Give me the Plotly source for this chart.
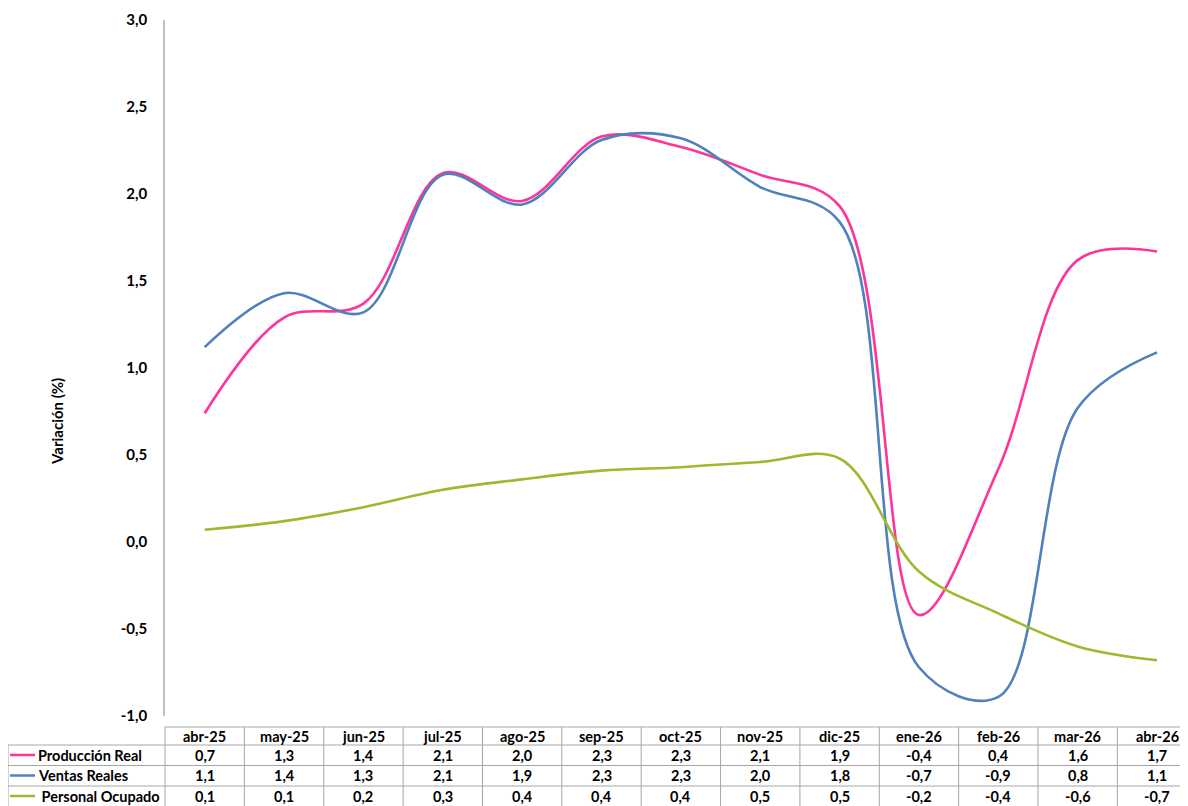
import plotly.graph_objects as go

categories = ["abr-25", "may-25", "jun-25", "jul-25", "ago-25", "sep-25", "oct-25",
              "nov-25", "dic-25", "ene-26", "feb-26", "mar-26", "abr-26"]
produccion = [0.74, 1.29, 1.37, 2.12, 1.96, 2.33, 2.27, 2.11, 1.93, -0.42, 0.42, 1.62, 1.67]
ventas = [1.12, 1.43, 1.32, 2.11, 1.94, 2.31, 2.32, 2.04, 1.84, -0.72, -0.89, 0.77, 1.09]
personal = [0.07, 0.12, 0.20, 0.30, 0.36, 0.41, 0.43, 0.46, 0.48, -0.17, -0.41, -0.60, -0.68]

tick_vals = [-1.0, -0.5, 0.0, 0.5, 1.0, 1.5, 2.0, 2.5, 3.0]
tick_text = ["-1,0", "-0,5", "0,0", "0,5", "1,0", "1,5", "2,0", "2,5", "3,0"]

series_names = ["Producción Real", "Ventas Reales", "Personal Ocupado"]
series_vals = [produccion, ventas, personal]
colors = ["#FF3399", "#4F81BD", "#9BBB2F"]

OFF = 8  # page body margin
PAGE_W, PAGE_H = 1188, 806
W, H = PAGE_W - OFF, PAGE_H - OFF
PL, PT, PB = 165, 20, 716
L, T = PL - OFF, PT - OFF
B = PAGE_H - PB
R = 0
XMIN, XMAX = -0.5, 12.39
plot_w = W - L - R
plot_h = H - T - B
FONT = "Lato, Carlito, Calibri, sans-serif"

def px_x(p):
    return (p - PL) / plot_w

def px_y(p):
    return (PB - p) / plot_h

def idx_x(i):
    return (i - XMIN) / (XMAX - XMIN)

fig = go.Figure()
for name, vals, col in zip(series_names, series_vals, colors):
    fig.add_trace(go.Scatter(
        x=categories, y=vals, mode="lines", name=name,
        line=dict(color=col, width=2.6, shape="spline", smoothing=1.0),
        showlegend=False,
    ))

shapes = []
annotations = []
border = dict(color="#A6A6A6", width=1)

row_lines = [727, 745, 765.5, 786, 806.5]
row_centers = [736, 755, 775.5, 796]
left_px = 8
right_x = idx_x(len(categories) - 0.5)
TS = 14.5

shapes.append(dict(type="line", xref="paper", yref="paper",
                   x0=0, x1=right_x, y0=px_y(row_lines[0]), y1=px_y(row_lines[0]), line=border))
for rl in row_lines[1:]:
    shapes.append(dict(type="line", xref="paper", yref="paper",
                       x0=px_x(left_px), x1=right_x, y0=px_y(rl), y1=px_y(rl), line=border))
shapes.append(dict(type="line", xref="paper", yref="paper",
                   x0=px_x(left_px), x1=px_x(left_px),
                   y0=px_y(row_lines[1]), y1=px_y(row_lines[-1]), line=border))
for k in range(len(categories) + 1):
    xx = idx_x(k - 0.5)
    shapes.append(dict(type="line", xref="paper", yref="paper",
                       x0=xx, x1=xx, y0=px_y(row_lines[0]), y1=px_y(row_lines[-1]), line=border))

for i, c in enumerate(categories):
    annotations.append(dict(xref="paper", yref="paper", x=idx_x(i), y=px_y(row_centers[0]),
                            text=f"<b>{c}</b>", showarrow=False,
                            font=dict(family=FONT, size=TS, color="#000000"),
                            xanchor="center", yanchor="middle"))

for r, (name, vals, col) in enumerate(zip(series_names, series_vals, colors)):
    yc = px_y(row_centers[r + 1])
    shapes.append(dict(type="line", xref="paper", yref="paper",
                       x0=px_x(10), x1=px_x(35), y0=yc, y1=yc,
                       line=dict(color=col, width=2.5)))
    label = name if r < 2 else "\u00a0" + name
    annotations.append(dict(xref="paper", yref="paper", x=px_x(36), y=yc,
                            text=f"<b>{label}</b>", showarrow=False,
                            font=dict(family=FONT, size=TS, color="#000000"),
                            xanchor="left", yanchor="middle"))
    for i, v in enumerate(vals):
        annotations.append(dict(xref="paper", yref="paper", x=idx_x(i), y=yc,
                                text="<b>" + f"{v:.1f}".replace(".", ",") + "</b>",
                                showarrow=False,
                                font=dict(family=FONT, size=TS, color="#000000"),
                                xanchor="center", yanchor="middle"))

annotations.append(dict(xref="paper", yref="paper", x=px_x(57), y=px_y(422),
                        text="<b>Variación (%)</b>", showarrow=False, textangle=-90,
                        font=dict(family=FONT, size=15, color="#000000"),
                        xanchor="center", yanchor="middle"))

fig.update_layout(
    width=W, height=H,
    margin=dict(l=L, r=R, t=T, b=B, pad=0),
    paper_bgcolor="white", plot_bgcolor="white",
    shapes=shapes, annotations=annotations,
    xaxis=dict(type="category", range=[XMIN, XMAX], showticklabels=False,
               showgrid=False, zeroline=False, showline=False, ticks=""),
    yaxis=dict(range=[-1, 3], tickmode="array", tickvals=tick_vals, ticktext=tick_text,
               showgrid=False, zeroline=False, showline=True,
               linecolor="#BFBFBF", linewidth=1.5, ticks="",
               ticklabelstandoff=13,
               tickfont=dict(family=FONT, size=15, color="#000000", weight="bold")),
)

fig.write_html("out.html")
